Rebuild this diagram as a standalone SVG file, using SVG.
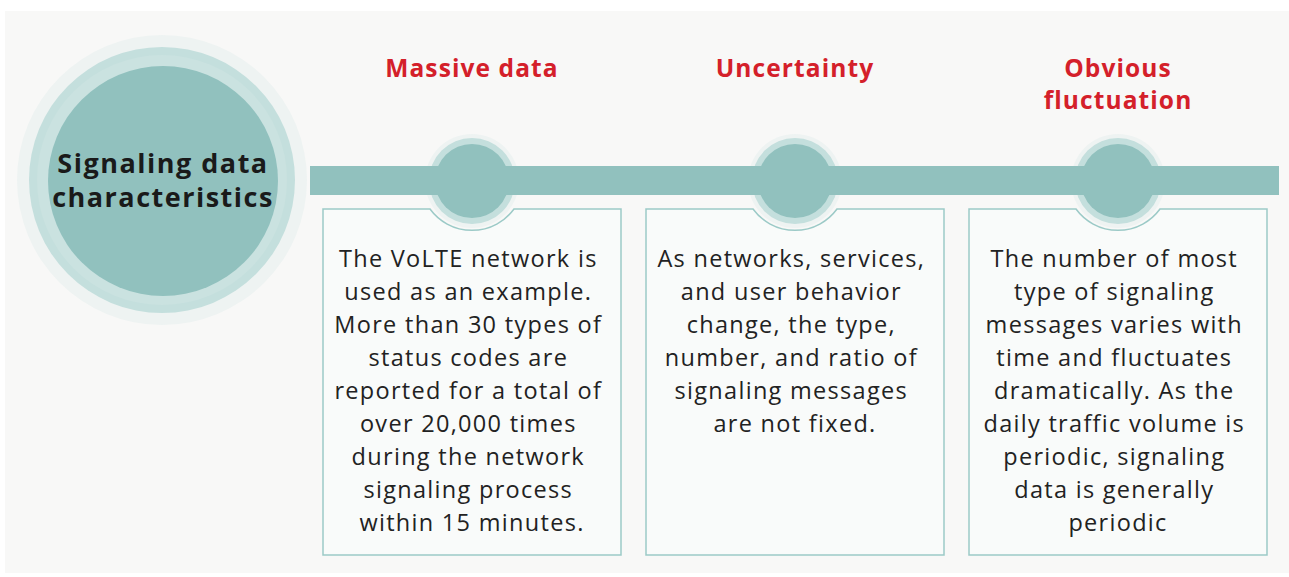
<svg xmlns="http://www.w3.org/2000/svg" width="1289" height="577" viewBox="0 0 1289 577">
<style>
.title{font-family:"Open Sans","Liberation Sans",sans-serif;font-weight:700;font-size:24.5px;letter-spacing:1.1px;fill:#d4202a;text-anchor:middle}
.body{font-family:"Open Sans","Liberation Sans",sans-serif;font-size:23.5px;letter-spacing:1.3px;fill:#222;text-anchor:middle}
.main{font-family:"Open Sans","Liberation Sans",sans-serif;font-weight:700;font-size:27px;letter-spacing:1.5px;fill:#1a1a1a;text-anchor:middle}
.box{fill:#f9fbfa;stroke:#9ccac7;stroke-width:1.5}
.halo{fill:#eef3f2}
.ring{fill:#c4dfdd}
.core{fill:#91c1be}
</style>
<rect x="0" y="0" width="1289" height="577" fill="#ffffff"/>
<rect x="5" y="11" width="1284" height="562" fill="#f8f8f7"/>
<g id="main-node">
<circle cx="162" cy="180" r="145" class="halo"/>
<circle cx="162" cy="180" r="133" class="ring"/>
<circle cx="162" cy="180" r="125" fill="#cae2e0"/>
<circle cx="163" cy="181" r="115" class="core"/>
<text class="main" x="163" y="173">Signaling data</text>
<text class="main" x="163" y="207">characteristics</text>
</g>
<g id="node-massive">
<text class="title" x="472" y="77">Massive data</text>
<path class="box" d="M323 209 H430 A52 52 0 0 0 514 209 H621 V555 H323 Z"/>
<circle cx="472" cy="181" r="47" class="halo"/>
<circle cx="472" cy="181" r="43" class="ring"/>
<circle cx="472" cy="181" r="37" class="core"/>
<text class="body">
<tspan x="472" y="267">The VoLTE network is</tspan>
<tspan x="472" y="300">used as an example.</tspan>
<tspan x="472" y="333">More than 30 types of</tspan>
<tspan x="472" y="366">status codes are</tspan>
<tspan x="472" y="399">reported for a total of</tspan>
<tspan x="472" y="432">over 20,000 times</tspan>
<tspan x="472" y="465">during the network</tspan>
<tspan x="472" y="498">signaling process</tspan>
<tspan x="472" y="531">within 15 minutes.</tspan>
</text>
</g>
<g id="node-uncertainty">
<text class="title" x="795" y="77">Uncertainty</text>
<path class="box" d="M646 209 H753 A52 52 0 0 0 837 209 H944 V555 H646 Z"/>
<circle cx="795" cy="181" r="47" class="halo"/>
<circle cx="795" cy="181" r="43" class="ring"/>
<circle cx="795" cy="181" r="37" class="core"/>
<text class="body">
<tspan x="795" y="267">As networks, services,</tspan>
<tspan x="795" y="300">and user behavior</tspan>
<tspan x="795" y="333">change, the type,</tspan>
<tspan x="795" y="366">number, and ratio of</tspan>
<tspan x="795" y="399">signaling messages</tspan>
<tspan x="795" y="432">are not fixed.</tspan>
</text>
</g>
<g id="node-fluctuation">
<text class="title" x="1118" y="77">Obvious</text>
<text class="title" x="1118" y="109">fluctuation</text>
<path class="box" d="M969 209 H1076 A52 52 0 0 0 1160 209 H1267 V555 H969 Z"/>
<circle cx="1118" cy="181" r="47" class="halo"/>
<circle cx="1118" cy="181" r="43" class="ring"/>
<circle cx="1118" cy="181" r="37" class="core"/>
<text class="body">
<tspan x="1118" y="267">The number of most</tspan>
<tspan x="1118" y="300">type of signaling</tspan>
<tspan x="1118" y="333">messages varies with</tspan>
<tspan x="1118" y="366">time and fluctuates</tspan>
<tspan x="1118" y="399">dramatically. As the</tspan>
<tspan x="1118" y="432">daily traffic volume is</tspan>
<tspan x="1118" y="465">periodic, signaling</tspan>
<tspan x="1118" y="498">data is generally</tspan>
<tspan x="1118" y="531">periodic</tspan>
</text>
</g>
<g id="connectors">
<rect x="310" y="166" width="969" height="29" fill="#91c1be"/>
</g>
</svg>
